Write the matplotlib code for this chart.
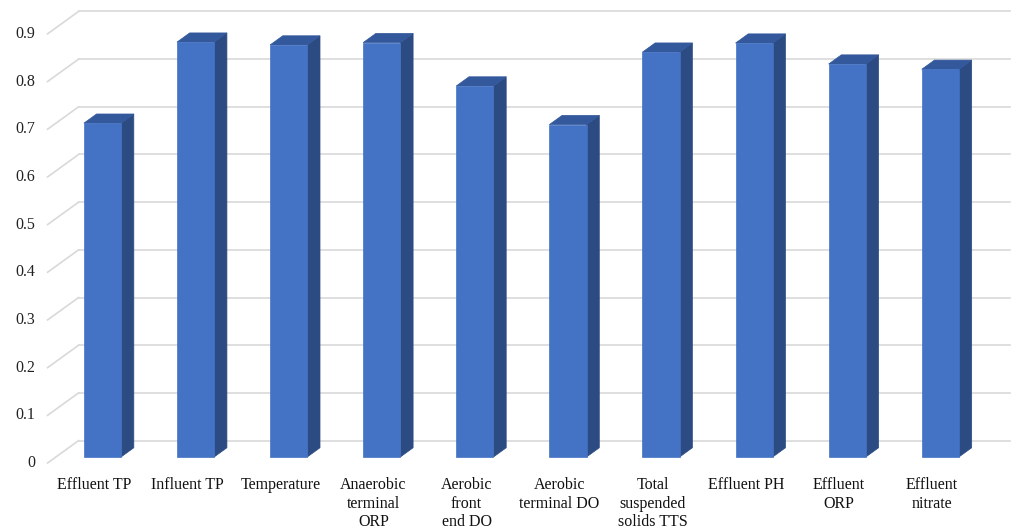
import matplotlib.pyplot as plt
from matplotlib.patches import Polygon

plt.rcParams['font.family'] = ['Liberation Serif', 'DejaVu Serif']
FS = 11.5

categories = ["Effluent TP", "Influent TP", "Temperature", "Anaerobic\nterminal\nORP",
              "Aerobic\nfront\nend DO", "Aerobic\nterminal DO", "Total\nsuspended\nsolids TTS",
              "Effluent PH", "Effluent\nORP", "Effluent\nnitrate"]
values = [0.700, 0.870, 0.864, 0.869, 0.778, 0.697, 0.849, 0.868, 0.824, 0.813]
yticks = [0, 0.1, 0.2, 0.3, 0.4, 0.5, 0.6, 0.7, 0.8, 0.9]

FRONT = "#4472C4"
SIDE = "#2B4B82"
TOP = "#33589C"
GRID = "#D9D9D9"

# oblique projection: depth d in [0, 1] shifts points right and up
DX, DY = 0.333, 0.047
D0, D1 = 0.27, 0.68   # bar front / back depth
W = 0.40              # bar width in category units


def proj(x, y, d):
    return (x + d * DX, y + d * DY)


fig = plt.figure(figsize=(10.14, 5.31), dpi=100)
ax = fig.add_axes([0, 0, 1, 1])
ax.set_xlim(-1.011, 9.881)
ax.set_ylim(-0.1426, 0.971)
ax.axis('off')

n = len(categories)
x0, x1 = -0.5, n - 0.5

# back wall and side wall gridlines
for t in yticks:
    bx0, by = proj(x0, t, 1)
    bx1, _ = proj(x1, t, 1)
    ax.plot([bx0, bx1], [by, by], color=GRID, lw=1.2, zorder=1)
    fx, fy = proj(x0, t, 0)
    ax.plot([fx, bx0], [fy, by], color=GRID, lw=1.2, zorder=1)
    ax.annotate(f"{t:g}", (fx, fy), xytext=(-9, 0), textcoords='offset points',
                ha='right', va='center', fontsize=FS, color='#222222')

# 3d columns
for i, v in enumerate(values):
    l, r = i - W / 2, i + W / 2
    front = [proj(l, 0, D0), proj(r, 0, D0), proj(r, v, D0), proj(l, v, D0)]
    side = [proj(r, 0, D0), proj(r, 0, D1), proj(r, v, D1), proj(r, v, D0)]
    top = [proj(l, v, D0), proj(r, v, D0), proj(r, v, D1), proj(l, v, D1)]
    for pts, c in [(side, SIDE), (top, TOP), (front, FRONT)]:
        ax.add_patch(Polygon(pts, closed=True, facecolor=c, edgecolor=c,
                             lw=0.5, zorder=3))

# category labels under the floor front edge
for i, lab in enumerate(categories):
    ax.annotate(lab, (i, 0), xytext=(0, -10), textcoords='offset points',
                ha='center', va='top', fontsize=FS, linespacing=1.23,
                color='#111111')

fig.savefig("out.png", dpi=100)
